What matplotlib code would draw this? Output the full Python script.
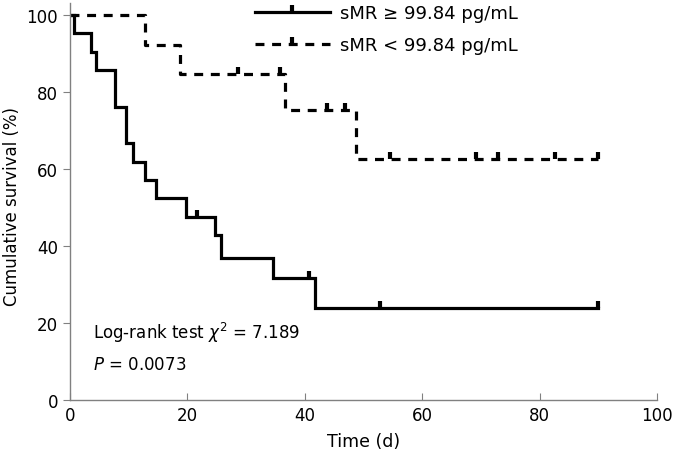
import numpy as np
import matplotlib.pyplot as plt

# sMR >= 99.84 pg/mL group (solid)
high_t = [0, 0.6, 3.6, 4.4, 7.7, 9.5, 10.7, 12.7, 14.7, 19.7, 24.7, 25.7, 34.6, 41.7, 90]
high_s = [100, 95.2, 90.5, 85.7, 76.2, 66.7, 61.9, 57.1, 52.4, 47.6, 42.9, 37.0, 31.7, 23.8, 23.8]
high_cens = [21.7, 40.8, 52.8, 89.9]

# sMR < 99.84 pg/mL group (dashed)
low_t = [0, 12.7, 18.7, 36.6, 48.7, 90]
low_s = [100, 92.3, 84.6, 75.2, 62.7, 62.7]
low_cens = [28.7, 35.8, 43.7, 46.9, 54.5, 69.2, 72.9, 82.6, 89.9]

labels = ["sMR \u2265 99.84 pg/mL", "sMR < 99.84 pg/mL"]


def surv_at(times, surv, t):
    # value of the step function (post) at time t
    idx = np.searchsorted(times, t, side='right') - 1
    return np.asarray(surv)[idx]


fig = plt.figure(figsize=(7, 4.64), dpi=100)
ax = fig.add_axes([70 / 700, 63 / 464, 587 / 700, 396.6 / 464])

lw = 2.3
dash = (0, (2.8, 2.4))
ax.step(high_t, high_s, where='post', color='black', lw=lw, solid_joinstyle='miter')
ax.plot(high_cens, surv_at(high_t, high_s, high_cens), ls='none', marker=2,
        ms=5, mew=3, color='black')

ax.step(low_t, low_s, where='post', color='black', lw=lw, ls=dash)
ax.plot(low_cens, surv_at(low_t, low_s, low_cens), ls='none', marker=2,
        ms=5, mew=3, color='black')

# legend handles
h1, = ax.plot([], [], color='black', lw=lw, marker=2, ms=5, mew=3)
h2, = ax.plot([], [], color='black', lw=lw, ls=dash, marker=2, ms=5, mew=3)
ax.legend([h1, h2], labels, loc='upper left', bbox_to_anchor=(255 / 700, 1 - 5 / 464),
          bbox_transform=fig.transFigure, frameon=False, fontsize=13, numpoints=1,
          handlelength=4.15, handletextpad=0.55, labelspacing=0.8, borderpad=0,
          borderaxespad=0)

ax.text(4, 17.7, r"Log-rank test $\chi^2$ = 7.189", fontsize=12, va='center')
ax.text(4, 9.4, r"$P$ = 0.0073", fontsize=12, va='center')

ax.set_xlim(0, 100)
ax.set_ylim(0, 103)
ax.set_xticks(np.arange(0, 101, 20))
ax.set_yticks(np.arange(0, 101, 20))
ax.spines['top'].set_visible(False)
ax.spines['right'].set_visible(False)
for s in ['left', 'bottom']:
    ax.spines[s].set_color('#808080')
    ax.spines[s].set_linewidth(1.0)
ax.tick_params(axis='x', direction='in', length=5, color='#808080', labelsize=12, pad=4)
ax.tick_params(axis='y', direction='out', length=5, color='#808080', labelsize=12)

ax.set_xlabel("Time (d)", fontsize=12.5)
ax.set_ylabel("Cumulative survival (%)", fontsize=12)
ax.xaxis.set_label_coords(0.5, -0.08)
ax.yaxis.set_label_coords(-0.083, 0.49)

fig.savefig("out.png", dpi=100)
